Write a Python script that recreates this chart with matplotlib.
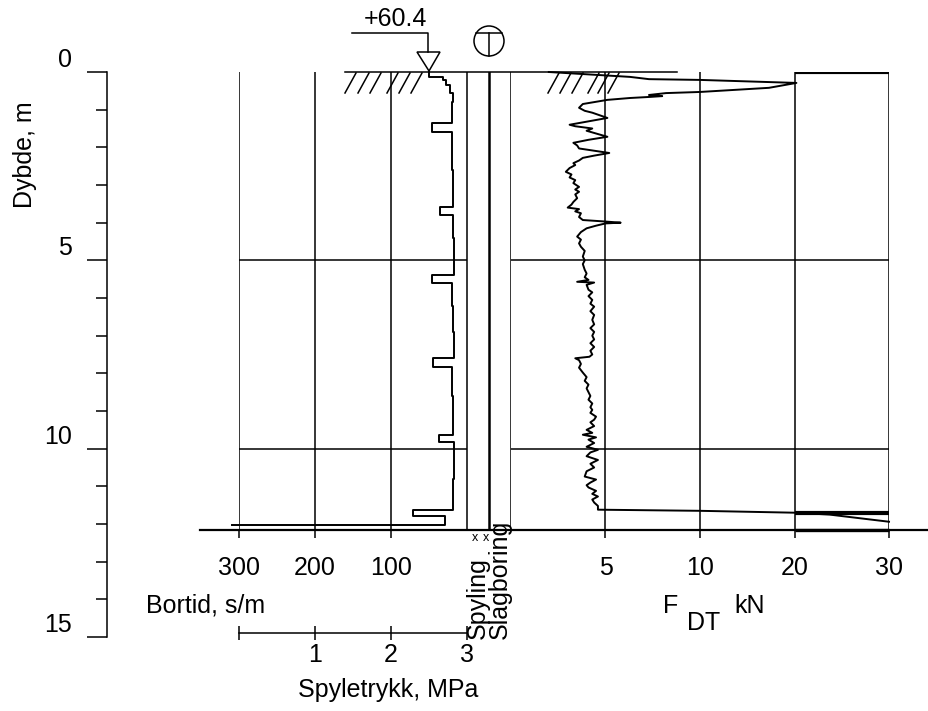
import matplotlib.pyplot as plt
import numpy as np
from matplotlib.lines import Line2D
from matplotlib.patches import Circle, Polygon

plt.rcParams["font.family"] = ["Liberation Sans", "DejaVu Sans"]
FS = 18

# Depth axis, m
depth_major = [0, 5, 10, 15]
depth_minor = list(range(0, 16))
bottom_depth = 12.16
grid_depths = [5, 10]

# Bortid (s/m): layer top depth and value
bt_depth = [0.00, 0.13, 0.21, 0.34, 0.56, 0.80, 1.35, 1.59, 2.60, 3.00, 3.58, 3.79,
            4.40, 5.38, 5.60, 6.20, 6.90, 7.59, 7.82, 8.60, 9.63, 9.81, 10.80,
            11.62, 11.80, 12.02]
bt_value = [50, 31.6, 27.6, 22.4, 18.4, 19.7, 46, 19.7, 19.0, 18.4, 35.5, 18.4,
            17.5, 46, 19.7, 18.4, 17.1, 44.7, 19.7, 18.4, 36.8, 17.1, 18.4,
            71, 29, 309]
bt_ticks = [300, 200, 100]

# Spyletrykk scale, MPa
spt_ticks = [0, 1, 2, 3]
spt_labels = ["", "1", "2", "3"]

# Feed force F_DT, kN
f_depth = [0.00, 0.13, 0.19, 0.21, 0.29, 0.42, 0.53, 0.56, 0.61, 0.64, 0.66, 0.69,
           0.74, 0.85, 0.95, 1.03, 1.08, 1.22, 1.30, 1.40, 1.44, 1.50, 1.56, 1.72,
           1.80, 1.88, 1.95, 2.03, 2.15, 2.22, 2.28, 2.35, 2.42, 2.47, 2.55, 2.65,
           2.72, 2.80, 2.87, 2.95, 3.05, 3.12, 3.18, 3.25, 3.35, 3.45, 3.52, 3.60,
           3.64, 3.70, 3.75, 3.85, 3.93, 3.97, 4.00, 4.02, 4.08, 4.15, 4.25, 4.37,
           4.45, 4.55, 4.64, 4.75, 4.90, 5.00, 5.10, 5.25, 5.35, 5.45, 5.52, 5.57,
           5.59, 5.65, 5.78, 5.85, 5.95, 6.05, 6.15, 6.23, 6.35, 6.45, 6.58, 6.70,
           6.80, 6.90, 7.00, 7.10, 7.20, 7.30, 7.40, 7.50, 7.56, 7.60, 7.65, 7.75,
           7.85, 7.98, 8.10, 8.20, 8.30, 8.40, 8.50, 8.60, 8.70, 8.80, 8.90, 8.97,
           9.05, 9.15, 9.23, 9.30, 9.40, 9.50, 9.58, 9.63, 9.70, 9.76, 9.85, 9.95,
           10.03, 10.10, 10.20, 10.30, 10.40, 10.50, 10.60, 10.74, 10.82, 10.90,
           10.97, 11.03, 11.12, 11.20, 11.27, 11.35, 11.43, 11.52, 11.60, 11.62,
           11.65, 11.70, 11.75, 11.94]
f_force = [2.0, 6.3, 7.3, 10.0, 20.2, 17.3, 10.0, 8.2, 7.3, 8.0, 7.4, 6.3,
           5.1, 3.8, 3.6, 3.9, 4.3, 5.1, 4.2, 3.1, 3.4, 4.3, 4.0, 5.1,
           4.1, 3.3, 3.5, 3.6, 5.2, 4.4, 3.8, 3.6, 3.3, 3.4, 3.1, 2.9,
           3.2, 3.1, 3.4, 3.3, 3.6, 3.4, 3.6, 3.4, 3.5, 3.3, 3.2, 3.0,
           3.6, 3.4, 3.7, 3.6, 3.8, 5.0, 5.8, 5.0, 4.5, 4.0, 3.7, 3.5,
           3.7, 3.6, 3.7, 3.9, 3.8, 3.9, 3.8, 3.9, 4.0, 3.9, 4.1, 3.5,
           4.4, 4.0, 4.1, 4.3, 4.1, 4.3, 4.2, 4.4, 4.2, 4.4, 4.3, 4.4,
           4.2, 4.4, 4.3, 4.4, 4.2, 4.4, 4.2, 4.3, 4.15, 3.4, 3.6, 3.7,
           3.6, 3.8, 4.0, 3.9, 4.1, 4.0, 4.1, 4.2, 4.1, 4.3, 4.2, 4.3,
           4.2, 4.5, 4.4, 4.2, 4.4, 4.0, 4.3, 3.8, 4.5, 4.1, 4.4, 4.0,
           4.6, 4.2, 4.0, 4.6, 4.2, 4.4, 4.0, 3.9, 4.5, 4.2,
           4.0, 4.1, 4.5, 4.3, 4.6, 4.3, 4.4, 4.6, 4.6, 4.6,
           10.0, 20.0, 23.7, 30.0]
f_ticks = [5, 10, 20, 30]
f_grid = [5, 10, 20, 30]
f_box = (20, 30)
f_box_marks = [0.0, 11.70]

elevation = "+60.4"

W, H = 929, 711
LW = 1.1
CLW = 1.4


def fx(x):
    return x / W


def fy(y):
    return 1 - y / H


def f_fwd(v):
    v = np.asarray(v, dtype=float)
    return np.where(v <= 10, v, 10 + (v - 10) / 2)


def f_inv(u):
    u = np.asarray(u, dtype=float)
    return np.where(u <= 10, u, 10 + (u - 10) * 2)


def clean(ax):
    ax.patch.set_alpha(0)
    for s in ax.spines.values():
        s.set_visible(False)


fig = plt.figure(figsize=(W / 100, H / 100), dpi=100)

# depth axis
ax_d = fig.add_axes([fx(107), fy(637), 0.001, fy(72) - fy(637)])
clean(ax_d)
ax_d.spines["left"].set_visible(True)
ax_d.spines["left"].set_linewidth(LW)
ax_d.set_ylim(15, 0)
ax_d.set_yticks(depth_major)
ax_d.set_yticks(depth_minor, minor=True)
ax_d.set_xticks([])
ax_d.tick_params(axis="y", which="major", length=14.4, width=LW, pad=11, labelsize=FS)
ax_d.tick_params(axis="y", which="minor", length=8, width=LW)
for lab in ax_d.get_yticklabels():
    lab.set_va("bottom")

top_px, bot_px = 72, 72 + bottom_depth * (637 - 72) / 15

# bortid panel
ax_bt = fig.add_axes([fx(239), fy(bot_px), fx(467) - fx(239), fy(top_px) - fy(bot_px)])
clean(ax_bt)
ax_bt.set_xlim(300, 0)
ax_bt.set_ylim(bottom_depth, 0)
for v in bt_ticks + [0]:
    ax_bt.axvline(v, color="black", lw=LW)
for d in grid_depths:
    ax_bt.axhline(d, color="black", lw=LW)
ax_bt.plot(bt_value, bt_depth, drawstyle="steps-pre", color="black", lw=CLW, clip_on=False)
ax_bt.set_xticks(bt_ticks)
ax_bt.set_yticks([])
ax_bt.tick_params(axis="x", length=5.8, width=LW, pad=13, labelsize=FS)

# spyling / slagboring columns
ax_m = fig.add_axes([fx(467), fy(bot_px), fx(511) - fx(467), fy(top_px) - fy(bot_px)])
clean(ax_m)
ax_m.set_xlim(0, 2)
ax_m.set_ylim(bottom_depth, 0)
ax_m.axvline(0, color="black", lw=LW)
ax_m.axvline(1, color="black", lw=1.8)
ax_m.axvline(2, color="black", lw=LW)
ax_m.set_xticks([])
ax_m.set_yticks([])

# feed force panel
ax_f = fig.add_axes([fx(511), fy(bot_px), fx(889) - fx(511), fy(top_px) - fy(bot_px)])
clean(ax_f)
ax_f.set_xscale("function", functions=(f_fwd, f_inv))
ax_f.set_xlim(0, 30)
ax_f.set_ylim(bottom_depth, 0)
for v in f_grid:
    ax_f.axvline(v, color="black", lw=LW)
for d in grid_depths:
    ax_f.axhline(d, color="black", lw=LW)
for d in f_box_marks:
    ax_f.hlines(d, f_box[0], f_box[1], color="black", lw=3)
ax_f.hlines(bottom_depth, f_box[0], f_box[1], color="black", lw=2.4, clip_on=False)
ax_f.plot(f_force, f_depth, color="black", lw=CLW, clip_on=False)
ax_f.set_xticks(f_ticks)
ax_f.set_xticklabels([str(t) for t in f_ticks])
ax_f.set_yticks([])
ax_f.tick_params(axis="x", length=5.8, width=LW, pad=13, labelsize=FS)

# spyletrykk scale
ax_s = fig.add_axes([fx(239), fy(633), fx(467) - fx(239), 0.001])
clean(ax_s)
ax_s.spines["bottom"].set_visible(True)
ax_s.spines["bottom"].set_linewidth(LW)
ax_s.set_xlim(0, 3)
ax_s.set_xticks(spt_ticks)
ax_s.set_xticklabels(spt_labels)
ax_s.set_yticks([])
ax_s.tick_params(axis="x", direction="inout", length=10, width=LW, pad=2, labelsize=FS)

# overlay for symbols and labels (pixel coordinates)
ov = fig.add_axes([0, 0, 1, 1])
ov.set_xlim(0, W)
ov.set_ylim(H, 0)
ov.axis("off")
ov.patch.set_alpha(0)

k = dict(color="black", lw=LW)
ov.add_line(Line2D([345, 677], [72, 72], **k))
ov.add_line(Line2D([200, 929], [bot_px, bot_px], color="black", lw=1.6))
# hatching of terrain
for xb in [345, 358, 370, 387, 399, 411, 548, 560, 572, 588, 598, 608]:
    ov.add_line(Line2D([xb, xb + 11], [93, 73], **k))
# elevation marker
ov.add_line(Line2D([352, 428, 428], [33, 33, 52], **k))
ov.add_patch(Polygon([[417, 52], [440, 52], [429, 71]], closed=True,
                     fill=False, ec="black", lw=LW))
ov.text(395, 19, elevation, fontsize=FS, ha="center", va="center")
# sounding symbol
ov.add_patch(Circle((489, 41), 15, fill=False, ec="black", lw=LW))
ov.add_line(Line2D([476.3, 501.7], [33, 33], **k))
ov.add_line(Line2D([489, 489], [33, 56], **k))

ov.text(478, 639, "Spyling", rotation=90, fontsize=FS, ha="center", va="bottom")
ov.text(500, 639, "Slagboring", rotation=90, fontsize=FS, ha="center", va="bottom")
ov.text(475, 538, "x", fontsize=9, ha="center", va="center")
ov.text(486, 538, "x", fontsize=9, ha="center", va="center")

ov.text(25, 155, "Dybde, m", rotation=90, fontsize=FS, ha="center", va="center")
ov.text(146, 606, "Bortid, s/m", fontsize=FS, ha="left", va="center")
ov.text(388, 690, "Spyletrykk, MPa", fontsize=FS, ha="center", va="center")
ov.text(671, 606, "F", fontsize=FS, ha="center", va="center")
ov.text(704, 623, "DT", fontsize=FS, ha="center", va="center")
ov.text(750, 606, "kN", fontsize=FS, ha="center", va="center")

fig.savefig("out.png", dpi=100)
